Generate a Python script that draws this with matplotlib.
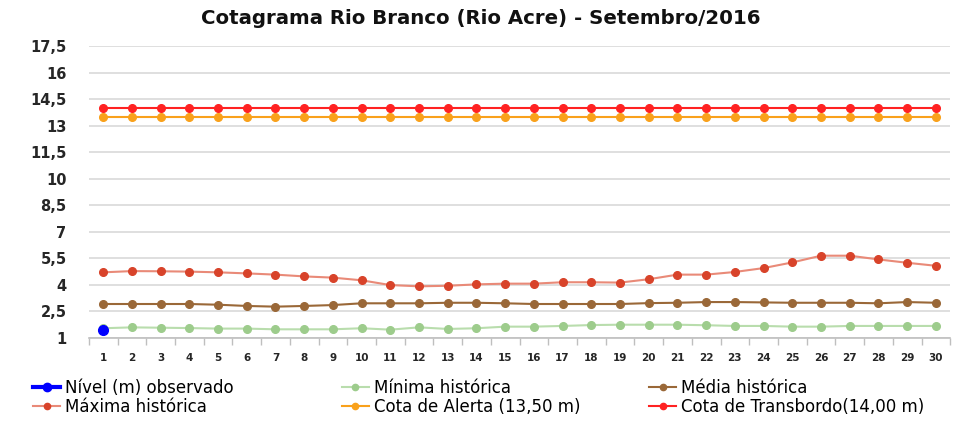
import matplotlib
matplotlib.use("Agg")
import matplotlib.pyplot as plt
from matplotlib.lines import Line2D
from matplotlib.ticker import FixedLocator

plt.rcParams['font.family'] = ['DejaVu Sans']

days = list(range(1, 31))
nivel_observado = [1.45]
minima = [1.55, 1.60, 1.58, 1.56, 1.53, 1.53, 1.49, 1.49, 1.49, 1.55,
          1.47, 1.60, 1.51, 1.55, 1.64, 1.64, 1.68, 1.73, 1.75, 1.75,
          1.75, 1.72, 1.68, 1.68, 1.64, 1.64, 1.68, 1.68, 1.68, 1.68]
media = [2.92, 2.92, 2.92, 2.92, 2.88, 2.81, 2.77, 2.81, 2.86, 2.96,
         2.96, 2.96, 2.99, 2.99, 2.96, 2.92, 2.92, 2.92, 2.92, 2.97,
         2.99, 3.03, 3.03, 3.01, 2.99, 2.99, 2.99, 2.96, 3.03, 2.99]
maxima = [4.71, 4.78, 4.77, 4.75, 4.71, 4.65, 4.58, 4.48, 4.41, 4.26,
          3.99, 3.92, 3.95, 4.03, 4.07, 4.07, 4.15, 4.15, 4.13, 4.32,
          4.58, 4.58, 4.73, 4.95, 5.27, 5.65, 5.65, 5.44, 5.25, 5.08]
cota_alerta = [13.5] * 30
cota_transbordo = [14.0] * 30
y_ticks = [1, 2.5, 4, 5.5, 7, 8.5, 10, 11.5, 13, 14.5, 16, 17.5]
y_labels = ["1", "2,5", "4", "5,5", "7", "8,5", "10", "11,5", "13", "14,5", "16", "17,5"]
title = "Cotagrama Rio Branco (Rio Acre) - Setembro/2016"

c_min_m, c_min_l = "#9DCC8C", "#B9DDAD"
c_med = "#9A6838"
c_max_m, c_max_l = "#D8432A", "#E98A78"
c_alert = "#F9A11B"
c_trans = "#FF2222"
c_blue = "#0000FF"

fig = plt.figure(figsize=(9.55, 4.3), dpi=100)
ax = fig.add_axes([0.093, 0.214, 0.902, 0.679])

ax.plot(days, cota_transbordo, color=c_trans, lw=1.5, marker='o', ms=5.5, zorder=3)
ax.plot(days, cota_alerta, color=c_alert, lw=1.5, marker='o', ms=5.5, zorder=3)
ax.plot(days, maxima, color=c_max_l, lw=1.5, marker='o', ms=5.5, mfc=c_max_m, mec=c_max_m, zorder=3)
ax.plot(days, media, color=c_med, lw=1.5, marker='o', ms=5.5, zorder=3)
ax.plot(days, minima, color=c_min_l, lw=1.5, marker='o', ms=5.5, mfc=c_min_m, mec=c_min_m, zorder=3)
ax.plot(days[:len(nivel_observado)], nivel_observado, color=c_blue, lw=2.5, marker='o', ms=7, zorder=4)

ax.set_xlim(0.5, 30.5)
ax.set_ylim(1, 17.5)
ax.set_yticks(y_ticks)
ax.set_yticklabels(y_labels, fontsize=10.5, fontweight='bold', color='#262626')
ax.set_xticks(days)
ax.set_xticklabels([str(d) for d in days], fontsize=7.5, fontweight='bold', color='#262626')
ax.xaxis.set_minor_locator(FixedLocator([d + 0.5 for d in range(0, 31)]))
ax.tick_params(axis='x', which='major', length=0, pad=11)
ax.tick_params(axis='x', which='minor', length=5, color='#BFBFBF', width=1)
ax.tick_params(axis='y', length=0, pad=16)
ax.grid(axis='y', color='#D9D9D9', lw=1.2)
ax.set_axisbelow(True)
for s in ['top', 'right', 'left']:
    ax.spines[s].set_visible(False)
ax.spines['bottom'].set_color('#BFBFBF')
ax.spines['bottom'].set_linewidth(1.2)

fig.text(0.503, 0.956, title, ha='center', va='center', fontsize=14.2, fontweight='bold', color='#111111')

def h(color, mcolor=None, lw=1.5, ms=4.5):
    return Line2D([], [], color=color, lw=lw, marker='o', ms=ms,
                  mfc=mcolor or color, mec=mcolor or color)

cols = [
    ([h(c_blue, lw=3, ms=6), h(c_max_l, c_max_m)], ["Nível (m) observado", "Máxima histórica"], 0.035),
    ([h(c_min_l, c_min_m), h(c_alert)], ["Mínima histórica", "Cota de Alerta (13,50 m)"], 0.358),
    ([h(c_med), h(c_trans)], ["Média histórica", "Cota de Transbordo(14,00 m)"], 0.680),
]
for handles, labels, x in cols:
    fig.legend(handles, labels, loc='upper left', bbox_to_anchor=(x, 0.118),
               frameon=False, fontsize=12, handlelength=1.6, handletextpad=0.3,
               labelspacing=0.02, borderaxespad=0, borderpad=0)

fig.savefig("out.png", dpi=100, facecolor='white')
